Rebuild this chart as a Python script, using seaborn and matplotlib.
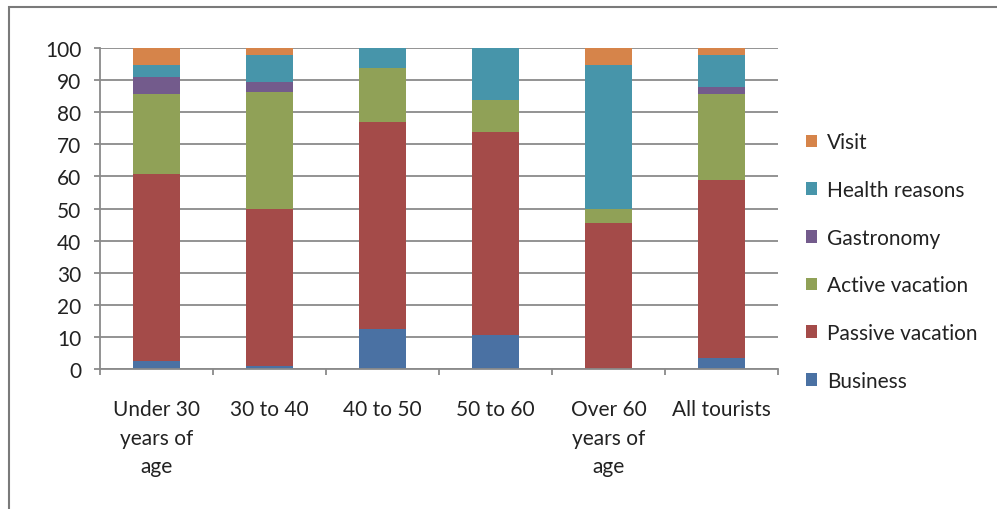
import numpy as np
import pandas as pd
import matplotlib
matplotlib.use("Agg")
import matplotlib.pyplot as plt
from matplotlib.patches import Patch, Rectangle
import seaborn as sns

# Share of tourists by main travel motive, per age group (percent)
groups = ["Under 30\nyears of\nage", "30 to 40", "40 to 50", "50 to 60",
          "Over 60\nyears of\nage", "All tourists"]
series = ["Business", "Passive vacation", "Active vacation",
          "Gastronomy", "Health reasons", "Visit"]
business = [2.6, 0.8, 12.6, 10.7, 0.0, 3.4]
passive = [58.1, 49.0, 64.3, 63.1, 45.6, 55.5]
active = [25.0, 36.5, 16.9, 10.0, 4.2, 26.8]
gastronomy = [5.3, 3.1, 0.0, 0.0, 0.0, 2.2]
health = [3.7, 8.4, 6.2, 16.2, 44.9, 9.9]
visit = [5.3, 2.2, 0.0, 0.0, 5.3, 2.2]
yticks = list(range(0, 101, 10))

colors = ["#4A71A3", "#A44B49", "#90A157", "#735B8C", "#4795AA", "#D6844A"]
GRAY = "#8a8a8a"
FS = 15

sns.set_theme(style="white")
plt.rcParams["font.family"] = ["Lato", "DejaVu Sans"]

values = np.array([business, passive, active, gastronomy, health, visit])
tops = np.cumsum(values, axis=0)

fig = plt.figure(figsize=(9.97, 5.10), dpi=100)
ax = fig.add_axes([0.1003, 0.2745, 0.680, 0.6294])

# Stacked bars: each layer drawn at its cumulative height, tallest first
for i in reversed(range(len(series))):
    df = pd.DataFrame({"group": groups, "top": tops[i]})
    sns.barplot(data=df, x="group", y="top", color=colors[i], width=0.41,
                saturation=1, edgecolor="none", linewidth=0, ax=ax,
                zorder=3)

ax.set_xlim(-0.5, len(groups) - 0.5)
ax.set_ylim(0, 100)
ax.set_yticks(yticks)
ax.set_yticklabels([str(t) for t in yticks], fontsize=FS, color="#222222")
ax.set_xlabel("")
ax.set_ylabel("")

ax.set_xticks(range(len(groups)))
ax.set_xticklabels(groups, fontsize=FS, color="#222222", linespacing=1.54)
ax.set_xticks(np.arange(-0.5, len(groups), 1.0), minor=True)
ax.tick_params(axis="x", which="major", length=0, pad=21.5)
ax.tick_params(axis="x", which="minor", length=4.5, width=1.3, color=GRAY,
               direction="out", bottom=True)
ax.tick_params(axis="y", length=4.5, width=1.3, color=GRAY, pad=9,
               direction="out", left=True)

ax.grid(axis="y", color=GRAY, linewidth=1.3, zorder=0)
ax.set_axisbelow(True)
for side in ["top", "right"]:
    ax.spines[side].set_visible(False)
for side in ["left", "bottom"]:
    ax.spines[side].set_color(GRAY)
    ax.spines[side].set_linewidth(1.3)
    ax.spines[side].set_zorder(4)

handles = [Patch(facecolor=colors[i], edgecolor="none", label=series[i])
           for i in reversed(range(len(series)))]
fig.legend(handles=handles, loc="upper left",
           bbox_to_anchor=(0.800, 0.755), frameon=False, fontsize=FS,
           labelcolor="#222222", handlelength=0.55, handleheight=0.55,
           handletextpad=0.45, labelspacing=1.33, borderaxespad=0)

# Outer chart border
fig.patches.append(Rectangle((9 / 997, -0.2), 1.2, 1.2 - 8 / 510,
                             transform=fig.transFigure, fill=False,
                             edgecolor="#7a7a7a", linewidth=1.5))

fig.savefig("out.png", dpi=100)
